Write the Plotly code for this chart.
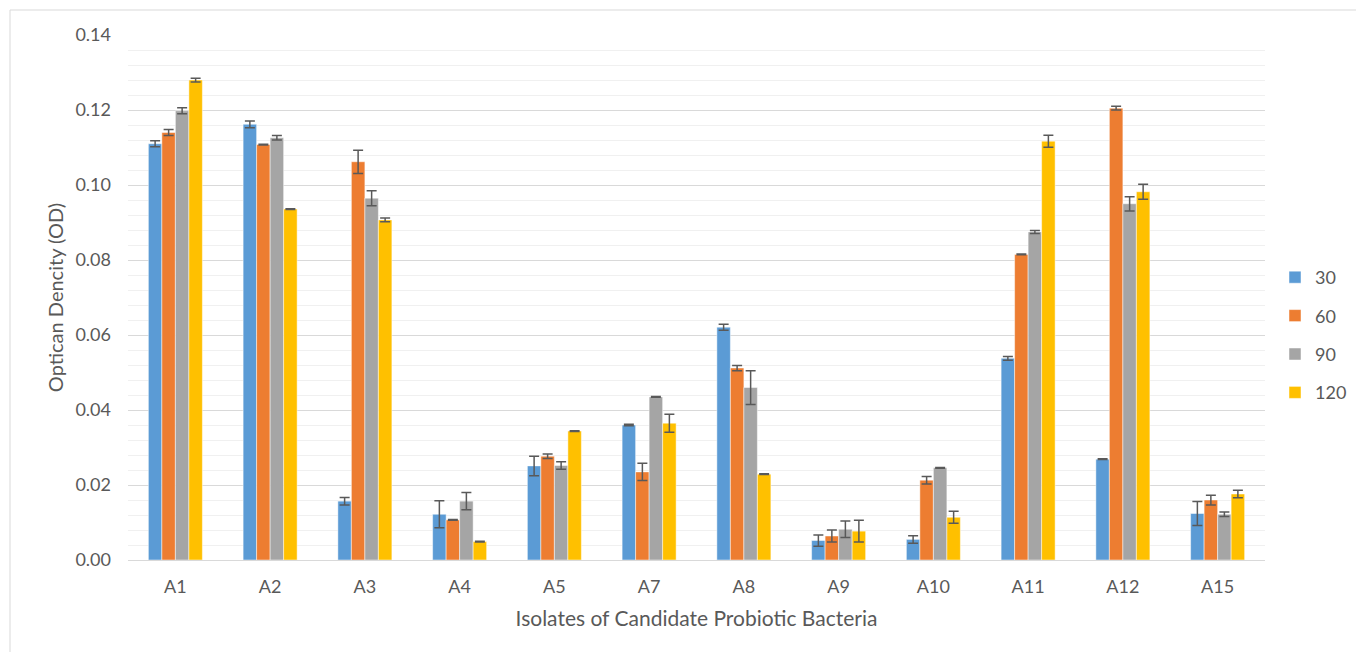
import plotly.graph_objects as go

categories = ["A1", "A2", "A3", "A4", "A5", "A7", "A8", "A9", "A10", "A11", "A12", "A15"]
series_names = ["30", "60", "90", "120"]

od_30 = [0.1110, 0.1162, 0.0157, 0.0122, 0.0251, 0.0360, 0.0621, 0.0052, 0.0055, 0.0538, 0.0269, 0.0124]
od_60 = [0.1140, 0.1108, 0.1062, 0.0107, 0.0277, 0.0235, 0.0512, 0.0064, 0.0213, 0.0815, 0.1205, 0.0160]
od_90 = [0.1198, 0.1126, 0.0965, 0.0157, 0.0252, 0.0435, 0.0460, 0.0082, 0.0246, 0.0875, 0.0950, 0.0122]
od_120 = [0.1280, 0.0936, 0.0907, 0.0049, 0.0344, 0.0365, 0.0229, 0.0077, 0.0114, 0.1117, 0.0982, 0.0176]

err_30 = [0.0008, 0.0009, 0.0010, 0.0036, 0.0026, 0.0002, 0.0008, 0.0015, 0.0010, 0.0005, 0.0001, 0.0032]
err_60 = [0.0008, 0.0001, 0.0031, 0.0001, 0.0006, 0.0023, 0.0007, 0.0016, 0.0010, 0.0001, 0.0005, 0.0013]
err_90 = [0.0008, 0.0006, 0.0020, 0.0023, 0.0010, 0.0001, 0.0045, 0.0022, 0.0001, 0.0004, 0.0019, 0.0006]
err_120 = [0.0005, 0.0001, 0.0005, 0.0001, 0.0001, 0.0024, 0.0001, 0.0029, 0.0016, 0.0016, 0.0020, 0.0010]

colors = ["#5B9BD5", "#ED7D31", "#A5A5A5", "#FFC000"]
values = [od_30, od_60, od_90, od_120]
errors = [err_30, err_60, err_90, err_120]

FONT = "Lato, 'Open Sans', sans-serif"
TXT = "#595959"

fig = go.Figure()
for i, name in enumerate(series_names):
    fig.add_trace(go.Bar(
        x=categories, y=values[i], name=name,
        marker=dict(color=colors[i], line=dict(color="rgba(255,255,255,0.6)", width=0.8)),
        error_y=dict(type="data", array=errors[i], visible=True,
                     color="#595959", thickness=1.5, width=5),
        legendgroup=name,
    ))

L, R, T, B = 128, 91, 35, 92
W, H = 1356, 652
pw, ph = W - L - R, H - T - B

fig.update_layout(
    width=W, height=H,
    margin=dict(l=L, r=R, t=T, b=B, autoexpand=False),
    paper_bgcolor="white", plot_bgcolor="white",
    barmode="group", bargap=0.43, bargroupgap=0,
    font=dict(family=FONT, color=TXT, size=18),
    legend=dict(x=(1275 - L) / pw, y=(560 - 335) / ph, xanchor="left", yanchor="middle",
                font=dict(size=18, color=TXT), tracegroupgap=12,
                itemwidth=30, bgcolor="rgba(0,0,0,0)"),
    showlegend=True,
    xaxis=dict(
        title=dict(text="Isolates of Candidate Probiotic Bacteria", font=dict(size=21, color=TXT), standoff=15),
        showline=True, linecolor="#d9d9d9", linewidth=1,
        ticks="", tickfont=dict(size=18, color=TXT), ticklabelstandoff=10,
    ),
    yaxis=dict(
        title=dict(text="Optican Dencity (OD)", font=dict(size=20, color=TXT), standoff=6),
        range=[0, 0.14], dtick=0.02, tickformat=".2f",
        showgrid=True, gridcolor="#d9d9d9", gridwidth=1,
        zeroline=False, showline=False,
        tickfont=dict(size=18, color=TXT), ticklabelstandoff=16,
        minor=dict(dtick=0.004, showgrid=True, gridcolor="#f0f0f0", gridwidth=1),
    ),
    shapes=[dict(type="rect", xref="paper", yref="paper",
                 x0=(10 - L) / pw, x1=(W + 20 - L) / pw,
                 y0=-(H + 20 - (H - B)) / ph, y1=1 + (T - 10) / ph,
                 line=dict(color="#d9d9d9", width=1), fillcolor="rgba(0,0,0,0)", layer="below")],
)

fig.write_html("out.html", config={"displayModeBar": False},
               post_script="document.body.style.margin='0';document.body.style.overflow='hidden';")
